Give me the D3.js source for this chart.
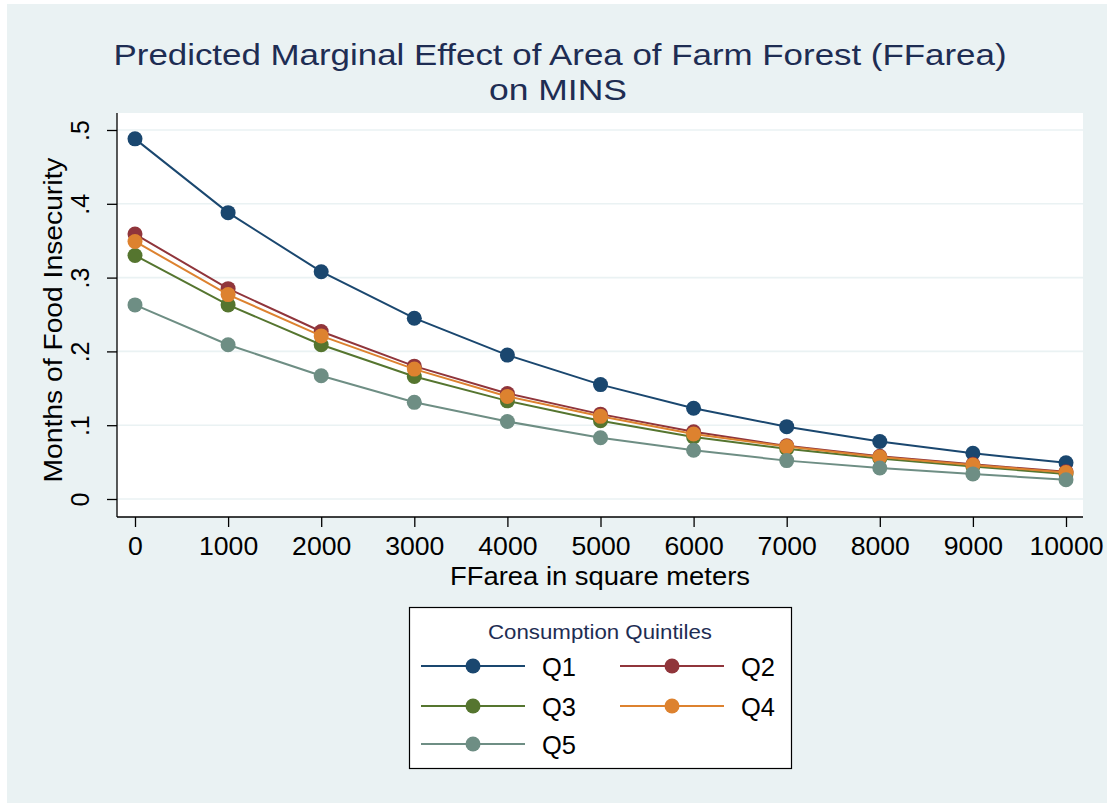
<!DOCTYPE html>
<html><head><meta charset="utf-8">
<script src="https://cdn.jsdelivr.net/npm/d3@7"></script>
<style>body{margin:0;background:#fff}svg{display:block}text{font-family:"Liberation Sans",Arial,Helvetica,sans-serif}</style>
</head><body><svg id="c" width="1107" height="803"></svg>
<script>
const xValues = [0,1000,2000,3000,4000,5000,6000,7000,8000,9000,10000];
const seriesNames = ["Q1","Q2","Q3","Q4","Q5"];
const Q1 = [0.488,0.388,0.308,0.245,0.195,0.155,0.123,0.098,0.078,0.062,0.049];
const Q2 = [0.359,0.285,0.227,0.180,0.143,0.115,0.091,0.072,0.058,0.047,0.037];
const Q3 = [0.330,0.263,0.209,0.166,0.133,0.106,0.084,0.068,0.055,0.044,0.034];
const Q4 = [0.349,0.277,0.221,0.176,0.139,0.112,0.088,0.071,0.057,0.046,0.036];
const Q5 = [0.263,0.209,0.167,0.131,0.105,0.083,0.066,0.052,0.042,0.034,0.026];
const seriesValues = [Q1,Q2,Q3,Q4,Q5];
const colors = ["#1a476f","#90353b","#55752f","#dd822f","#6e8e84"];
const yTicks = [0,0.1,0.2,0.3,0.4,0.5];
const yTickLabels = ["0",".1",".2",".3",".4",".5"];
const titleLines = ["Predicted Marginal Effect of Area of Farm Forest (FFarea)","on MINS"];
const xTitle = "FFarea in square meters";
const yTitle = "Months of Food Insecurity";
const legendTitle = "Consumption Quintiles";

const svg = d3.select("#c");
svg.append("rect").attr("x",7).attr("y",4).attr("width",1100).attr("height",799).attr("fill","#eaf2f3");

const L=117,R=1083,T=113,B=517;
svg.append("rect").attr("x",L).attr("y",T).attr("width",R-L).attr("height",B-T).attr("fill","#fff");

const x = d3.scaleLinear().domain([0,10000]).range([135,1066]);
const y = d3.scaleLinear().domain([0,0.5]).range([499,130]);

// gridlines
svg.append("g").selectAll("line").data(yTicks).join("line")
  .attr("x1",L).attr("x2",R).attr("y1",d=>y(d)).attr("y2",d=>y(d))
  .attr("stroke","#eaf2f3").attr("stroke-width",1.6);

// title
const title = svg.append("g").attr("fill","#1e2d53");
title.append("text").attr("x",560).attr("y",65).attr("text-anchor","middle").attr("font-size",30)
  .attr("textLength",893).attr("lengthAdjust","spacingAndGlyphs").text(titleLines[0]);
title.append("text").attr("x",558).attr("y",100).attr("text-anchor","middle").attr("font-size",30)
  .attr("textLength",138).attr("lengthAdjust","spacingAndGlyphs").text(titleLines[1]);

// y axis
const ya = svg.append("g").attr("transform",`translate(${L},0)`)
  .call(d3.axisLeft(y).tickValues(yTicks).tickSize(10).tickFormat((d,i)=>yTickLabels[i]));
ya.select(".domain").attr("d",`M0,${T}V${B}`).attr("stroke","#000").attr("stroke-width",1.3);
ya.selectAll(".tick line").attr("stroke","#000").attr("stroke-width",1.3);
ya.selectAll(".tick text").attr("font-size",25).attr("fill","#000").attr("font-family","Liberation Sans, Arial, sans-serif")
  .attr("x",0).attr("dy",0).attr("text-anchor","middle")
  .attr("transform","translate(-28,0) rotate(-90)");

// x axis
const xa = svg.append("g").attr("transform",`translate(0,${B})`)
  .call(d3.axisBottom(x).tickValues(xValues).tickSize(10).tickFormat(d3.format("d")));
xa.select(".domain").attr("d",`M${L},0H${R}`).attr("stroke","#000").attr("stroke-width",1.3);
xa.selectAll(".tick line").attr("stroke","#000").attr("stroke-width",1.3);
xa.selectAll(".tick text").attr("font-size",25).attr("fill","#000").attr("font-family","Liberation Sans, Arial, sans-serif")
  .attr("y",38).attr("dy",0).attr("transform","scale(1,1)");
xa.selectAll(".tick text").each(function(){ const t=d3.select(this); const n=t.text().length; t.attr("textLength",n*14.8).attr("lengthAdjust","spacingAndGlyphs"); });

// axis titles
svg.append("text").attr("x",600).attr("y",585).attr("text-anchor","middle").attr("font-size",25)
  .attr("textLength",300).attr("lengthAdjust","spacingAndGlyphs").text(xTitle);
svg.append("text").attr("transform","translate(62,320) rotate(-90)").attr("text-anchor","middle").attr("font-size",25)
  .attr("textLength",325).attr("lengthAdjust","spacingAndGlyphs").text(yTitle);

// series
const line = d3.line().x((d,i)=>x(xValues[i])).y(d=>y(d));
seriesValues.forEach((vals,k)=>{
  const g = svg.append("g");
  g.append("path").datum(vals).attr("d",line).attr("fill","none").attr("stroke",colors[k]).attr("stroke-width",2);
  g.selectAll("circle").data(vals).join("circle")
    .attr("cx",(d,i)=>x(xValues[i])).attr("cy",d=>y(d)).attr("r",7.5).attr("fill",colors[k]);
});

// legend
const lg = svg.append("g");
lg.append("rect").attr("x",409.5).attr("y",607.5).attr("width",382).attr("height",161)
  .attr("fill","#fff").attr("stroke","#000").attr("stroke-width",1.2);
lg.append("text").attr("x",600).attr("y",639).attr("text-anchor","middle").attr("font-size",20)
  .attr("fill","#1e2d53").attr("textLength",224).attr("lengthAdjust","spacingAndGlyphs").text(legendTitle);
const pos = [[421,666],[620,666],[421,706],[620,706],[421,744]];
seriesNames.forEach((name,k)=>{
  const [lx,ly]=pos[k];
  lg.append("line").attr("x1",lx).attr("x2",lx+104).attr("y1",ly).attr("y2",ly).attr("stroke",colors[k]).attr("stroke-width",2);
  lg.append("circle").attr("cx",lx+52).attr("cy",ly).attr("r",7.5).attr("fill",colors[k]);
  lg.append("text").attr("x",lx+121).attr("y",ly+10).attr("font-size",25).attr("fill","#000")
    .attr("textLength",34).attr("lengthAdjust","spacingAndGlyphs").text(name);
});
</script></body></html>
